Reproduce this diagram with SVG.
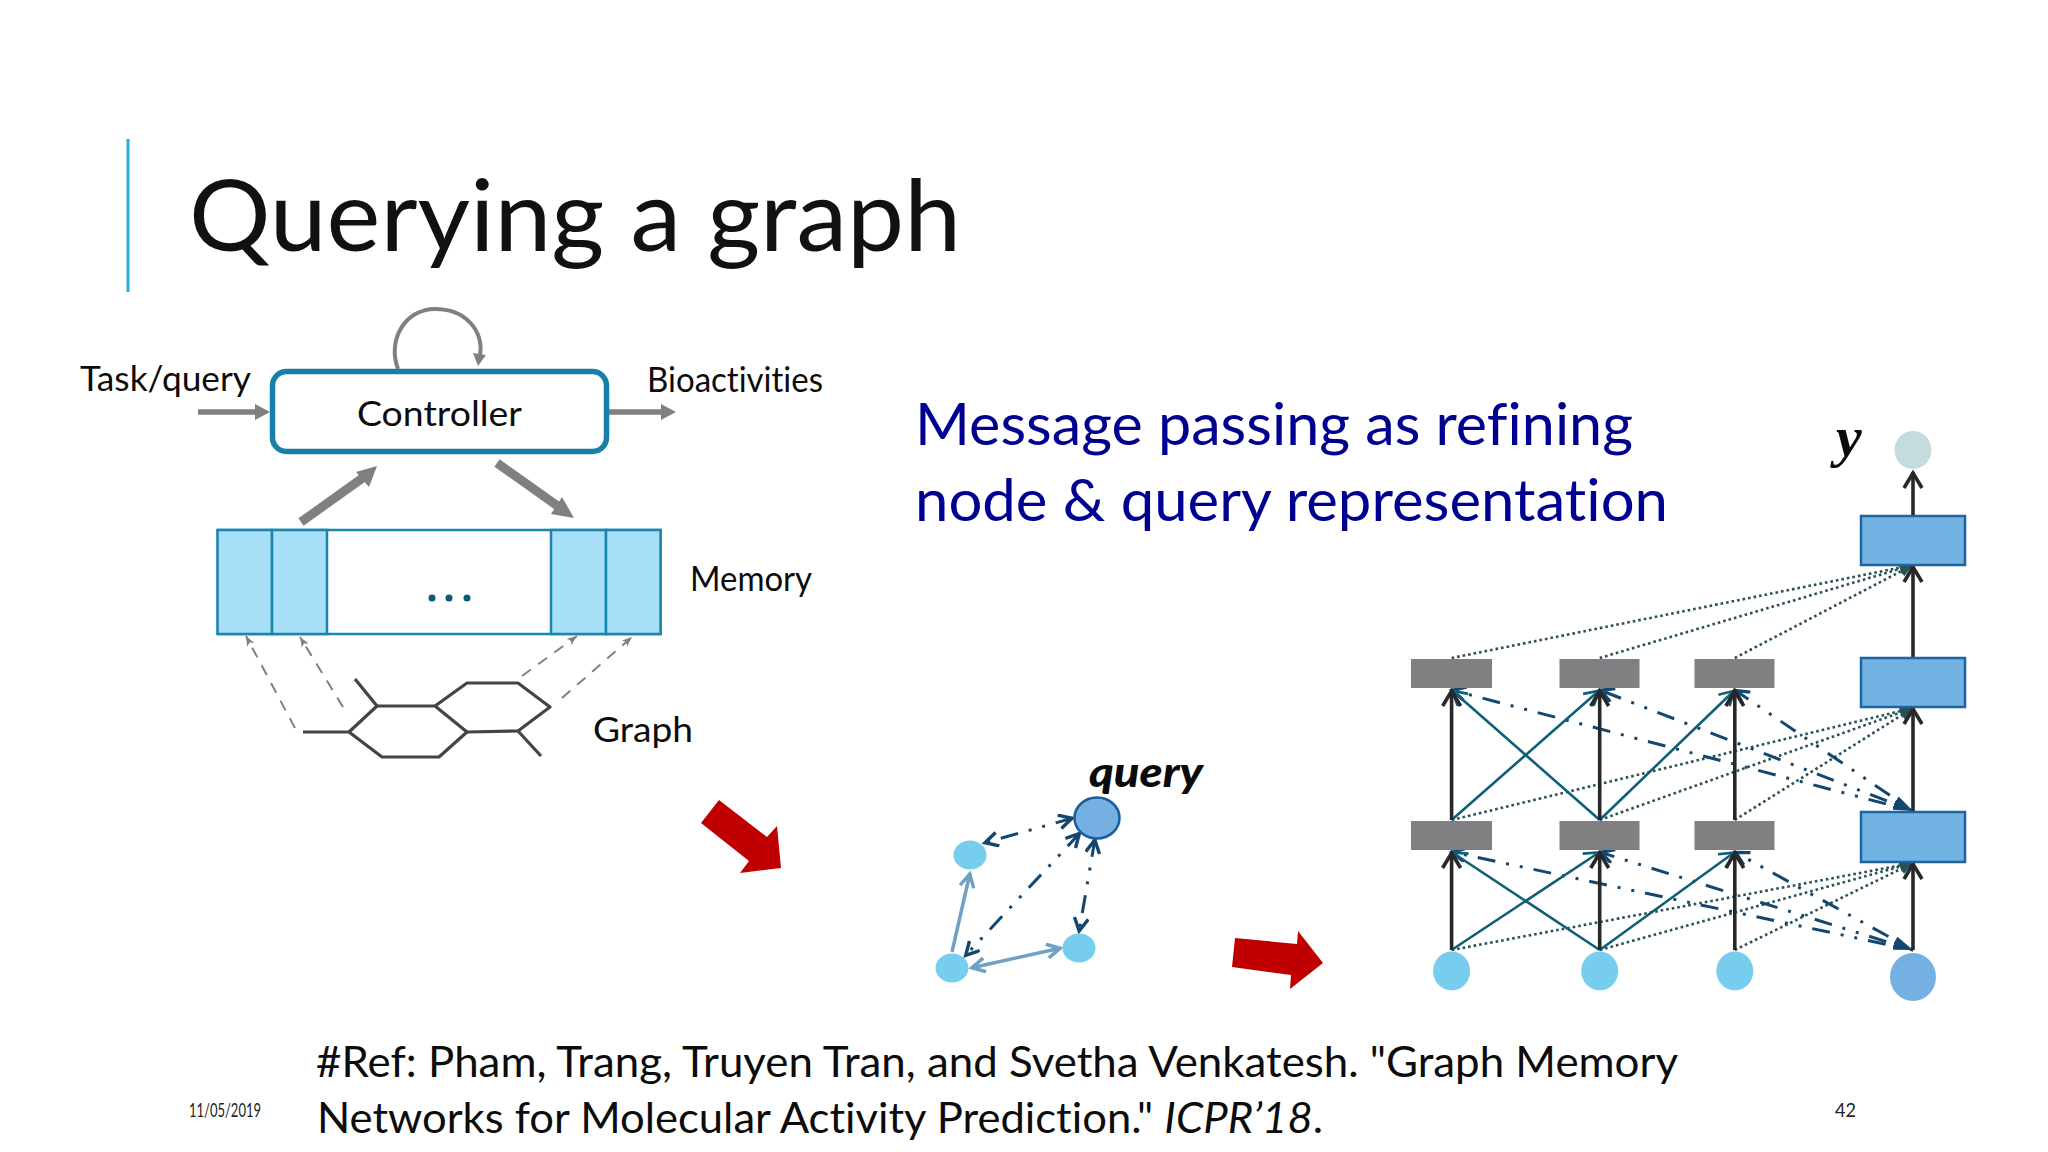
<svg xmlns="http://www.w3.org/2000/svg" width="2048" height="1152" viewBox="0 0 2048 1152">
<style>
text{font-family:"Lato","Open Sans","Noto Sans",sans-serif;fill:#111;font-variant-ligatures:none;}
.tw{font-family:"Lato","Open Sans",sans-serif;font-size:35px;fill:#0c0c0c;}
.msg{font-size:59px;fill:#000090;}
.ref{font-size:43px;fill:#0c0c0c;}
.foot{font-size:20px;fill:#222;}
.gray{stroke:#808080;fill:none;}
.mem{fill:#a6dff6;stroke:#1a85ad;stroke-width:2.5;}
.hex{fill:none;stroke:#444;stroke-width:3.2;stroke-linejoin:round;}
.dash{stroke:#808080;stroke-width:2;stroke-dasharray:11 9;fill:none;marker-end:url(#smallHead);}
.qn{fill:#76cdee;}
.ddd{stroke:#15476e;stroke-width:3;fill:none;stroke-dasharray:18 11 3 11 3 11;marker-start:url(#navy);marker-end:url(#navy);}
.net{stroke:#15476e;stroke-width:3;fill:none;stroke-dasharray:3 11 3 11 18 11;marker-start:url(#wedge);marker-end:url(#navy);}
.lite{stroke:#6fa0c6;stroke-width:3.500;fill:none;}
.blue{fill:#72b3e3;stroke:#1c659f;stroke-width:2.5;}
.grey{fill:#808083;}
.blk{stroke:#282828;stroke-width:3.6;fill:none;marker-end:url(#blackHead);}
.teal{stroke:#0f5f78;stroke-width:2.6;fill:none;marker-end:url(#tealHead);}
.dot{stroke:#2a5058;stroke-width:2.6;fill:none;stroke-dasharray:2.6 3;marker-end:url(#dotHead);}
.red{fill:#c00000;}
</style>
<defs>
<marker id="smallHead" markerUnits="userSpaceOnUse" markerWidth="12" markerHeight="12" refX="10" refY="5" orient="auto"><path d="M0 1 L10 5 L0 9 L2.5 5Z" fill="#808080"/></marker>
<marker id="navy" markerUnits="userSpaceOnUse" markerWidth="20" markerHeight="20" refX="16" refY="8" orient="auto-start-reverse"><path d="M2 1 L15 8 L2 15" fill="none" stroke="#15476e" stroke-width="3.400"/></marker>
<marker id="wedge" markerUnits="userSpaceOnUse" markerWidth="24" markerHeight="12" refX="20" refY="5" orient="auto-start-reverse"><path d="M0 1 L20 5 L0 9Z" fill="#15476e"/></marker>
<marker id="lite" markerUnits="userSpaceOnUse" markerWidth="20" markerHeight="20" refX="16" refY="8" orient="auto-start-reverse"><path d="M2 1 L15 8 L2 15" fill="none" stroke="#6fa0c6" stroke-width="3.500"/></marker>
<marker id="blackHead" markerUnits="userSpaceOnUse" markerWidth="24" markerHeight="24" refX="18" refY="11" orient="auto"><path d="M2 2 L17 11 L2 20" fill="none" stroke="#282828" stroke-width="3.6"/></marker>
<marker id="tealHead" markerUnits="userSpaceOnUse" markerWidth="24" markerHeight="24" refX="18" refY="11" orient="auto"><path d="M3 3 L17 11 L3 19" fill="none" stroke="#0f5f78" stroke-width="2.6"/></marker>
<marker id="dotHead" markerUnits="userSpaceOnUse" markerWidth="20" markerHeight="20" refX="15" refY="8" orient="auto"><path d="M2 2 L15 8 L2 14Z" fill="#2a5058"/></marker>
</defs>
<rect width="2048" height="1152" fill="#fff"/>

<g id="title">
<line x1="128" y1="139" x2="128" y2="292" stroke="#29aae1" stroke-width="3"/>
<text x="189" y="251" font-size="99" textLength="772" lengthAdjust="spacingAndGlyphs">Querying a graph</text>
</g>

<g id="connectors">
<line class="gray" stroke-width="5.500" x1="198" y1="412" x2="258" y2="412"/>
<polygon points="270,412 255,404 255,420" fill="#808080"/>
<line class="gray" stroke-width="5.500" x1="607" y1="412" x2="664" y2="412"/>
<polygon points="676,412 661,404 661,420" fill="#808080"/>
<path class="gray" stroke-width="4" d="M398 369 C387 340 405 309 435 309 C465 309 484 330 480 356"/>
<polygon points="478,366 473,353 486,355" fill="#808080"/>
<line class="gray" stroke-width="9" x1="301" y1="522" x2="364" y2="477"/>
<polygon points="377,466 356,472 369,487" fill="#808080"/>
<line class="gray" stroke-width="9" x1="497" y1="463" x2="559" y2="507"/>
<polygon points="574,518 562,497 551,514" fill="#808080"/>
<line class="dash" x1="295" y1="728" x2="246" y2="636"/>
<line class="dash" x1="343" y1="707" x2="300" y2="637"/>
<line class="dash" x1="522" y1="676" x2="577" y2="636"/>
<line class="dash" x1="562" y1="698" x2="632" y2="637"/>
<line class="ddd" x1="1073" y1="818" x2="984" y2="843"/>
<line class="ddd" x1="1080" y1="833" x2="965" y2="956"/>
<line class="ddd" x1="1095" y1="839" x2="1079" y2="932"/>
<line class="lite" x1="952" y1="952" x2="970" y2="873" marker-end="url(#lite)"/>
<line class="lite" x1="971" y1="968" x2="1061" y2="948" marker-start="url(#lite)" marker-end="url(#lite)"/>
<line class="dot" x1="1451.6" y1="658" x2="1913" y2="565"/>
<line class="dot" x1="1599.7" y1="658" x2="1913" y2="565"/>
<line class="dot" x1="1734.8" y1="658" x2="1913" y2="565"/>
<line class="dot" x1="1451.6" y1="820" x2="1913" y2="708"/>
<line class="dot" x1="1599.7" y1="820" x2="1913" y2="708"/>
<line class="dot" x1="1734.8" y1="820" x2="1913" y2="708"/>
<line class="dot" x1="1451.6" y1="950" x2="1913" y2="863"/>
<line class="dot" x1="1599.7" y1="950" x2="1913" y2="863"/>
<line class="dot" x1="1734.8" y1="950" x2="1913" y2="863"/>
<line class="net" x1="1913" y1="811" x2="1451.6" y2="690"/>
<line class="net" x1="1913" y1="811" x2="1599.7" y2="690"/>
<line class="net" x1="1913" y1="811" x2="1734.8" y2="690"/>
<line class="net" x1="1913" y1="950" x2="1451.6" y2="852"/>
<line class="net" x1="1913" y1="950" x2="1599.7" y2="852"/>
<line class="net" x1="1913" y1="950" x2="1734.8" y2="852"/>
<line class="teal" x1="1451.6" y1="820" x2="1599.7" y2="690"/>
<line class="teal" x1="1599.7" y1="820" x2="1451.6" y2="690"/>
<line class="teal" x1="1599.7" y1="820" x2="1734.8" y2="690"/>
<line class="teal" x1="1451.6" y1="950" x2="1599.7" y2="852"/>
<line class="teal" x1="1599.7" y1="950" x2="1451.6" y2="852"/>
<line class="teal" x1="1599.7" y1="950" x2="1734.8" y2="852"/>
<line class="blk" x1="1451.6" y1="820" x2="1451.6" y2="690"/>
<line class="blk" x1="1599.7" y1="820" x2="1599.7" y2="690"/>
<line class="blk" x1="1734.8" y1="820" x2="1734.8" y2="690"/>
<line class="blk" x1="1451.6" y1="950" x2="1451.6" y2="852"/>
<line class="blk" x1="1599.7" y1="950" x2="1599.7" y2="852"/>
<line class="blk" x1="1734.8" y1="950" x2="1734.8" y2="852"/>
<line class="blk" x1="1913" y1="516" x2="1913" y2="472"/>
<line class="blk" x1="1913" y1="658" x2="1913" y2="566"/>
<line class="blk" x1="1913" y1="812" x2="1913" y2="708"/>
<line class="blk" x1="1913" y1="950" x2="1913" y2="863"/>
</g>

<g id="controller">
<rect x="272.500" y="371.500" width="334" height="80" rx="14" fill="#fff" stroke="#1a7fa6" stroke-width="5.500"/>
<text class="tw" x="357" y="426" textLength="165" lengthAdjust="spacingAndGlyphs">Controller</text>
</g>
<g id="task-label"><text class="tw" x="80" y="391" textLength="171" lengthAdjust="spacingAndGlyphs">Task/query</text></g>
<g id="bio-label"><text class="tw" x="647" y="392" textLength="176" lengthAdjust="spacingAndGlyphs">Bioactivities</text></g>

<g id="memory">
<rect x="218" y="530" width="442.500" height="104" fill="#fff" stroke="#1a85ad" stroke-width="2.5"/>
<rect class="mem" x="217.500" y="530" width="54.500" height="104"/>
<rect class="mem" x="272" y="530" width="55" height="104"/>
<rect class="mem" x="551" y="530" width="55" height="104"/>
<rect class="mem" x="606" y="530" width="54.500" height="104"/>
<circle cx="432" cy="598" r="3.500" fill="#0b5a78"/><circle cx="449" cy="598" r="3.500" fill="#0b5a78"/><circle cx="467" cy="598" r="3.500" fill="#0b5a78"/>
<text class="tw" x="690" y="591" textLength="122" lengthAdjust="spacingAndGlyphs">Memory</text>
</g>

<g id="graph">
<path class="hex" d="M377 706 L435 706 L467 732 L439 757 L382 757 L349 732Z"/>
<path class="hex" d="M435 706 L467 683 L518 683 L550 707 L518 731 L467 732"/>
<path class="hex" d="M303 732 L349 732 M355 679 L377 706 M518 731 L541 756"/>
<text class="tw" x="593" y="742" textLength="100" lengthAdjust="spacingAndGlyphs">Graph</text>
</g>

<g id="message"><text class="msg" x="915" y="445" textLength="718" lengthAdjust="spacingAndGlyphs">Message passing as refining</text>
<text class="msg" x="915" y="521" textLength="753" lengthAdjust="spacingAndGlyphs">node &amp; query representation</text></g>

<polygon id="red-arrow-1" class="red" points="719,800 767,837 777,826 781,868 740,873 749,861 701,823"/>
<polygon id="red-arrow-2" class="red" points="1235,938 1297,944 1298,931 1323,963 1290,989 1291,975 1232,967"/>

<g id="query-node"><ellipse cx="1097" cy="818" rx="22.500" ry="20.500" fill="#74b0e2" stroke="#1a5d99" stroke-width="2.500"/>
<text x="1089" y="787" font-size="41" font-weight="900" font-style="italic" style="fill:#0a0a0a" textLength="114" lengthAdjust="spacingAndGlyphs">query</text></g>
<ellipse id="q-a" class="qn" cx="970" cy="855" rx="16.500" ry="14.500"/>
<ellipse id="q-b" class="qn" cx="952" cy="968" rx="16.500" ry="14.500"/>
<ellipse id="q-c" class="qn" cx="1079" cy="948" rx="16.500" ry="14.500"/>

<g id="output-y"><ellipse cx="1913" cy="450" rx="18.500" ry="19" fill="#c4dcdc"/>
<text x="1836" y="456" font-size="58" font-weight="700" font-style="italic" style="font-family:'Liberation Serif',serif;fill:#0a0a0a">y</text></g>
<rect id="blue-3" class="blue" x="1861" y="516" width="104" height="49"/>
<rect id="blue-2" class="blue" x="1861" y="658" width="104" height="49"/>
<rect id="blue-1" class="blue" x="1861" y="812" width="104" height="50"/>
<rect id="gray-t1" class="grey" x="1411" y="659" width="81" height="29"/>
<rect id="gray-t2" class="grey" x="1559.500" y="659" width="80" height="29"/>
<rect id="gray-t3" class="grey" x="1694.500" y="659" width="80" height="29"/>
<rect id="gray-b1" class="grey" x="1411" y="821" width="81" height="29"/>
<rect id="gray-b2" class="grey" x="1559.500" y="821" width="80" height="29"/>
<rect id="gray-b3" class="grey" x="1694.500" y="821" width="80" height="29"/>
<ellipse id="in-1" class="qn" cx="1451.600" cy="971" rx="18.500" ry="19.500"/>
<ellipse id="in-2" class="qn" cx="1599.700" cy="971" rx="18.500" ry="19.500"/>
<ellipse id="in-3" class="qn" cx="1734.800" cy="971" rx="18.500" ry="19.500"/>
<ellipse id="in-q" cx="1913" cy="977" rx="23" ry="24" fill="#74b0e2"/>

<g id="reference">
<text class="ref" x="316" y="1077" textLength="1362" lengthAdjust="spacingAndGlyphs">#Ref: Pham, Trang, Truyen Tran, and Svetha Venkatesh. "Graph Memory</text>
<text class="ref" x="317" y="1133" textLength="1006" lengthAdjust="spacingAndGlyphs">Networks for Molecular Activity Prediction." <tspan font-style="italic">ICPR’18</tspan>.</text>
</g>
<g id="footer">
<text class="foot" x="189" y="1117" textLength="72" lengthAdjust="spacingAndGlyphs">11/05/2019</text>
<text class="foot" x="1835" y="1117" textLength="21" lengthAdjust="spacingAndGlyphs">42</text>
</g>
</svg>
